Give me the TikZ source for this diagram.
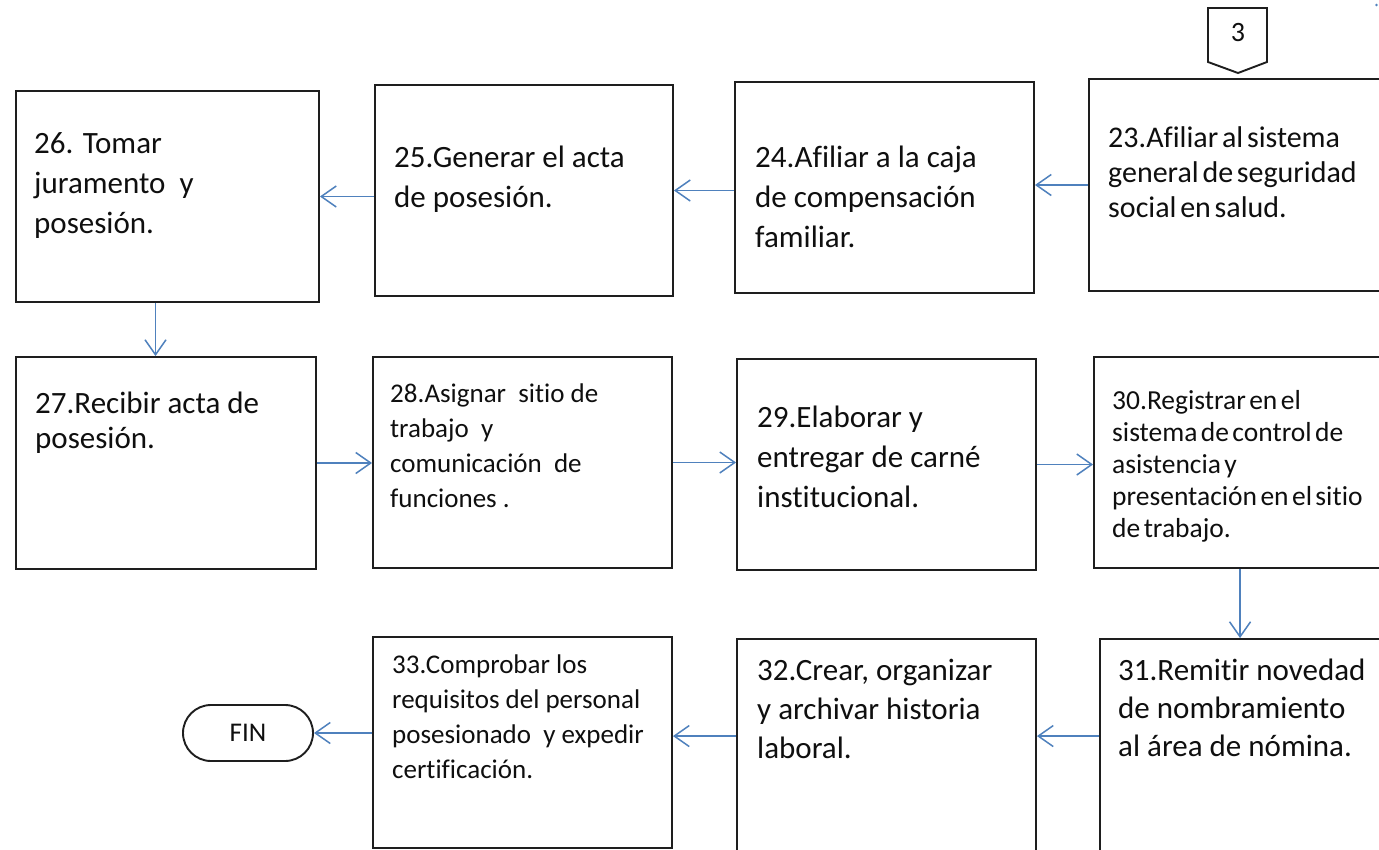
\documentclass[tikz,border=0pt]{standalone}
\usepackage{fontspec}
\setmainfont{Carlito}[Ligatures=NoCommon]
\newfontfamily\tightfont[WordSpace=0.55,Ligatures=NoCommon]{Carlito}
\usetikzlibrary{arrows.meta,calc}
\definecolor{arrowblue}{RGB}{79,129,189}
\definecolor{boxline}{RGB}{30,30,30}
\definecolor{txt}{RGB}{15,15,15}
\begin{document}
\begin{tikzpicture}[x=1pt,y=-1pt,
  stepbox/.style={draw=boxline,line width=1.9pt,rectangle,inner sep=0pt,fill=white},
  lbl/.style={anchor=base west,align=left,inner sep=0pt,text=txt},
  bigtxt/.style={lbl,font=\fontsize{31}{40}\selectfont},
  midtxt/.style={lbl,font=\fontsize{27}{35}\selectfont},
  arr/.style={draw=arrowblue,line width=1.5pt,-{Straight Barb[length=15pt,width=21pt,line width=1.5pt]}}
]
\useasboundingbox (0,0) rectangle (1379,849);
\clip (0,0) rectangle (1379,849);
\fill[white] (0,0) rectangle (1379,849);

% boxes
\node[stepbox,minimum width=303pt,minimum height=211pt] (b26) at (167.5,196.5) {};
\node[stepbox,minimum width=298pt,minimum height=211pt] (b25) at (524,190.5) {};
\node[stepbox,minimum width=299pt,minimum height=211pt] (b24) at (884.5,187.5) {};
\node[stepbox,minimum width=331pt,minimum height=212pt] (b23) at (1254.5,185) {};
\node[stepbox,minimum width=300pt,minimum height=212pt] (b27) at (166,463) {};
\node[stepbox,minimum width=299pt,minimum height=211pt] (b28) at (522.5,462.5) {};
\node[stepbox,minimum width=299pt,minimum height=211pt] (b29) at (886.5,464.5) {};
\node[stepbox,minimum width=326pt,minimum height=211pt] (b30) at (1257,462.5) {};
\node[stepbox,minimum width=320pt,minimum height=221pt] (b31) at (1260,749.5) {};
\node[stepbox,minimum width=299pt,minimum height=221pt] (b32) at (886.5,749.5) {};
\node[stepbox,minimum width=299pt,minimum height=211pt] (b33) at (522.5,742.5) {};
\node[stepbox,minimum width=130pt,minimum height=56pt,rounded corners=28pt] (fin) at (248,733) {};
\node[text=txt,font=\fontsize{27}{30}\selectfont] (fintxt) at (fin.center) {FIN};

% off-page connector
\draw[boxline,line width=1.9pt,line join=miter] (1208,8) -- (1267,8) -- (1267,62) -- (1238,73) -- (1208,62) -- cycle;
\node[text=txt,font=\fontsize{28}{30}\selectfont] (c3) at (1238,33) {3};
\fill[arrowblue] (1376.5,5) circle (1.3pt);

% texts (anchor = baseline of the last line)
\node[bigtxt] (t26) at (34,233) {26. Tomar\\juramento \ y\\posesión.};
\node[bigtxt] (t25) at (394,207) {25.Generar el acta\\de posesión.};
\node[bigtxt] (t24) at (755,247) {24.Afiliar a la caja\\de compensación\\familiar.};
\node[lbl,font=\tightfont\fontsize{30}{35}\selectfont] (t23) at (1108,217) {23.Afiliar al sistema\\general de seguridad\\social en salud.};
\node[lbl,font=\fontsize{31}{35}\selectfont] (t27) at (35,448) {27.Recibir acta de\\posesión.};
\node[midtxt] (t28) at (390,507) {28.Asignar \ sitio de\\trabajo \ y\\comunicación \ de\\funciones .};
\node[bigtxt] (t29) at (757,507) {29.Elaborar y\\entregar de carné\\institucional.};
\node[lbl,font=\tightfont\fontsize{27.5}{32}\selectfont] (t30) at (1112,537) {30.Registrar en el\\sistema de control de\\asistencia y\\presentación en el sitio\\de trabajo.};
\node[lbl,font=\fontsize{31}{38}\selectfont] (t31) at (1118,756) {31.Remitir novedad\\de nombramiento\\al área de nómina.};
\node[lbl,font=\fontsize{31}{39}\selectfont] (t32) at (757,758) {32.Crear, organizar\\y archivar historia\\laboral.};
\node[midtxt] (t33) at (392,778) {33.Comprobar los\\requisitos del personal\\posesionado \ y expedir\\certificación.};

% connectors
\draw[arr] (b23.west) -- (b23.west -| b24.east);
\draw[arr] (b25.east -| b24.west) -- (b25.east);
\draw[arr] (b26.east -| b25.west) -- (b26.east);
\draw[arr] ([xshift=-12pt]b26.south) -- ([xshift=-12pt]b26.south |- b27.north);
\draw[arr] (b27.east) -- (b27.east -| b28.west);
\draw[arr] (b28.east) -- (b28.east -| b29.west);
\draw[arr] (b29.east) -- (b29.east -| b30.west);
\draw[arr] ([xshift=147pt]b30.south west) -- ([xshift=147pt]b30.south west |- b31.north);
\draw[arr] ([yshift=-98pt]b31.north west) -- ([yshift=-98pt]b31.north west -| b32.east);
\draw[arr] ([yshift=-98pt]b32.north west) -- ([yshift=-98pt]b32.north west -| b33.east);
\draw[arr] (fin.east -| b33.west) -- (fin.east);
\end{tikzpicture}
\end{document}
